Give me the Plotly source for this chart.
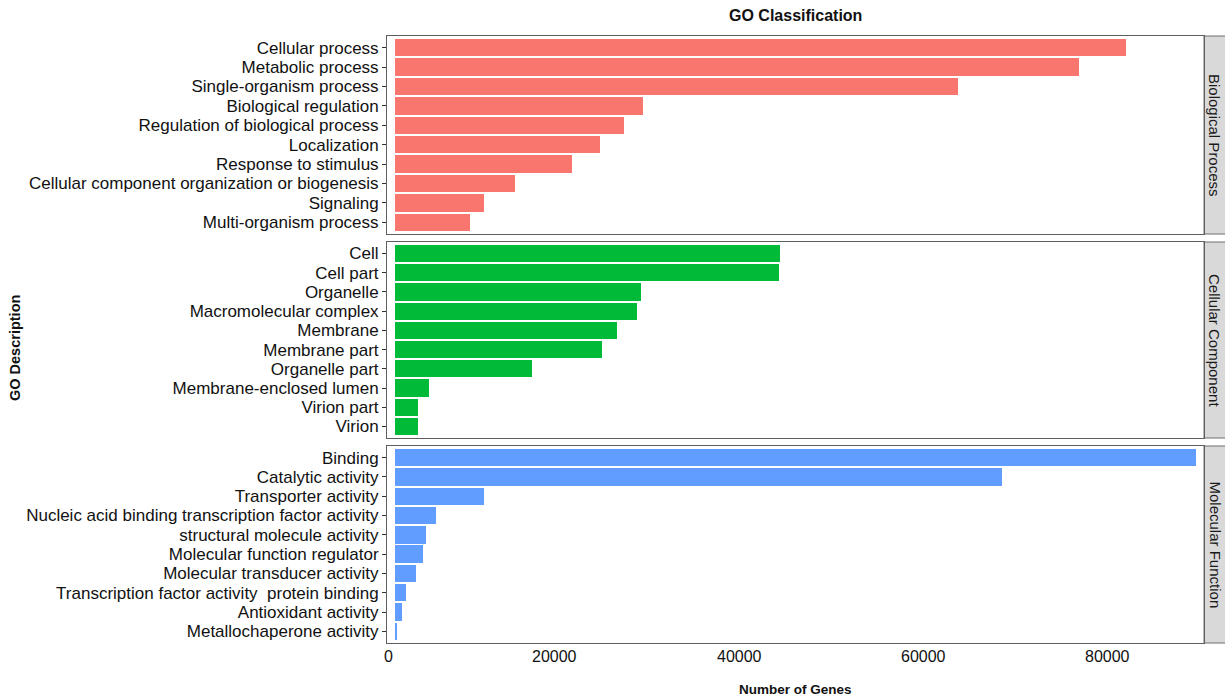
import plotly.graph_objects as go

# GO term counts per ontology (top to bottom order within each panel)
bp_terms = [
    "Cellular process", "Metabolic process", "Single-organism process",
    "Biological regulation", "Regulation of biological process", "Localization",
    "Response to stimulus", "Cellular component organization or biogenesis",
    "Signaling", "Multi-organism process",
]
bp_counts = [79350, 74300, 61150, 26950, 24900, 22300, 19200, 13050, 9700, 8180]

cc_terms = [
    "Cell", "Cell part", "Organelle", "Macromolecular complex", "Membrane",
    "Membrane part", "Organelle part", "Membrane-enclosed lumen", "Virion part", "Virion",
]
cc_counts = [41750, 41730, 26700, 26300, 24100, 22450, 14920, 3730, 2540, 2530]

mf_terms = [
    "Binding", "Catalytic activity", "Transporter activity",
    "Nucleic acid binding transcription factor activity",
    "structural molecule activity", "Molecular function regulator",
    "Molecular transducer activity", "Transcription factor activity  protein binding",
    "Antioxidant activity", "Metallochaperone activity",
]
mf_counts = [86950, 65900, 9640, 4420, 3370, 3080, 2320, 1200, 800, 120]

panel_names = ["Biological Process", "Cellular Component", "Molecular Function"]
panel_colors = ["#F8766D", "#00BA38", "#619CFF"]
x_ticks = [0, 20000, 40000, 60000, 80000]

W, H = 1225, 700
FONT = "Liberation Sans, Arial, Helvetica, sans-serif"

# panel geometry in pixels
px_left, px_right = 387, 1204
panel_px = [(36, 234), (242, 438), (446, 643)]

def ydom(top, bottom):
    return [1 - bottom / H, 1 - top / H]

panels = [
    (bp_terms, bp_counts),
    (cc_terms, cc_counts),
    (mf_terms, mf_counts),
]

fig = go.Figure()
layout = dict(
    width=W, height=H,
    margin=dict(l=0, r=0, t=0, b=0),
    paper_bgcolor="white", plot_bgcolor="white",
    showlegend=False,
    font=dict(family=FONT, color="#111111"),
    bargap=0,
)

xdom = [px_left / W, px_right / W]
xrange = [-868, 87815]
border = "#5e5e5e"

for i, (terms, counts) in enumerate(panels):
    sfx = "" if i == 0 else str(i + 1)
    fig.add_trace(go.Bar(
        x=counts, y=terms, orientation="h", width=0.9,
        marker=dict(color=panel_colors[i], line=dict(width=0)),
        xaxis="x" + sfx, yaxis="y" + sfx,
        hovertemplate="%{y}: %{x}<extra></extra>",
    ))
    top, bottom = panel_px[i]
    layout["xaxis" + sfx] = dict(
        domain=xdom, range=xrange, anchor="y" + sfx,
        showgrid=False, zeroline=False, showticklabels=False, ticks="",
        showline=True, mirror=True, linecolor=border, linewidth=1,
        **({} if i == 0 else {"matches": "x"}),
    )
    layout["yaxis" + sfx] = dict(
        domain=ydom(top, bottom), anchor="x" + sfx,
        type="category", categoryorder="array", categoryarray=terms,
        range=[9.6, -0.6],
        tickmode="array", tickvals=terms, ticktext=terms,
        showgrid=False, zeroline=False,
        showline=True, mirror=True, linecolor=border, linewidth=1,
        ticks="outside", ticklen=4, tickcolor="#333333", tickwidth=1,
        tickfont=dict(family=FONT, size=17, color="#111111"),
    )

fig.update_layout(**layout)

shapes = []
annotations = []

# facet strips on the right side
for i, name in enumerate(panel_names):
    top, bottom = panel_px[i]
    shapes.append(dict(
        type="rect", xref="paper", yref="paper",
        x0=px_right / W, x1=1.02, y0=1 - bottom / H, y1=1 - top / H,
        fillcolor="#D9D9D9", line=dict(color="#6e6e6e", width=1), layer="below",
    ))
    annotations.append(dict(
        text=name, xref="paper", yref="paper",
        x=1215 / W, y=1 - (top + bottom) / 2 / H,
        xanchor="center", yanchor="middle", textangle=90, showarrow=False,
        font=dict(family=FONT, size=15, color="#1a1a1a"),
    ))

# x tick labels, right-aligned at their tick positions
for v in x_ticks:
    annotations.append(dict(
        text=str(v), xref="x3", yref="paper", x=v, y=1 - 656 / H,
        xanchor="right", yanchor="middle", showarrow=False,
        font=dict(family=FONT, size=16, color="#111111"),
    ))

# titles
annotations.append(dict(
    text="<b>GO Classification</b>", xref="paper", yref="paper",
    x=(px_left + px_right) / 2 / W, y=1 - 15 / H, xanchor="center", yanchor="middle",
    showarrow=False, font=dict(family=FONT, size=16, color="#111111"),
))
annotations.append(dict(
    text="<b>Number of Genes</b>", xref="paper", yref="paper",
    x=(px_left + px_right) / 2 / W, y=1 - 689 / H, xanchor="center", yanchor="middle",
    showarrow=False, font=dict(family=FONT, size=13.5, color="#111111"),
))
annotations.append(dict(
    text="<b>GO Description</b>", xref="paper", yref="paper",
    x=15 / W, y=1 - 348 / H, xanchor="center", yanchor="middle", textangle=-90,
    showarrow=False, font=dict(family=FONT, size=14.5, color="#111111"),
))

fig.update_layout(shapes=shapes, annotations=annotations)
fig.write_html("out.html")
